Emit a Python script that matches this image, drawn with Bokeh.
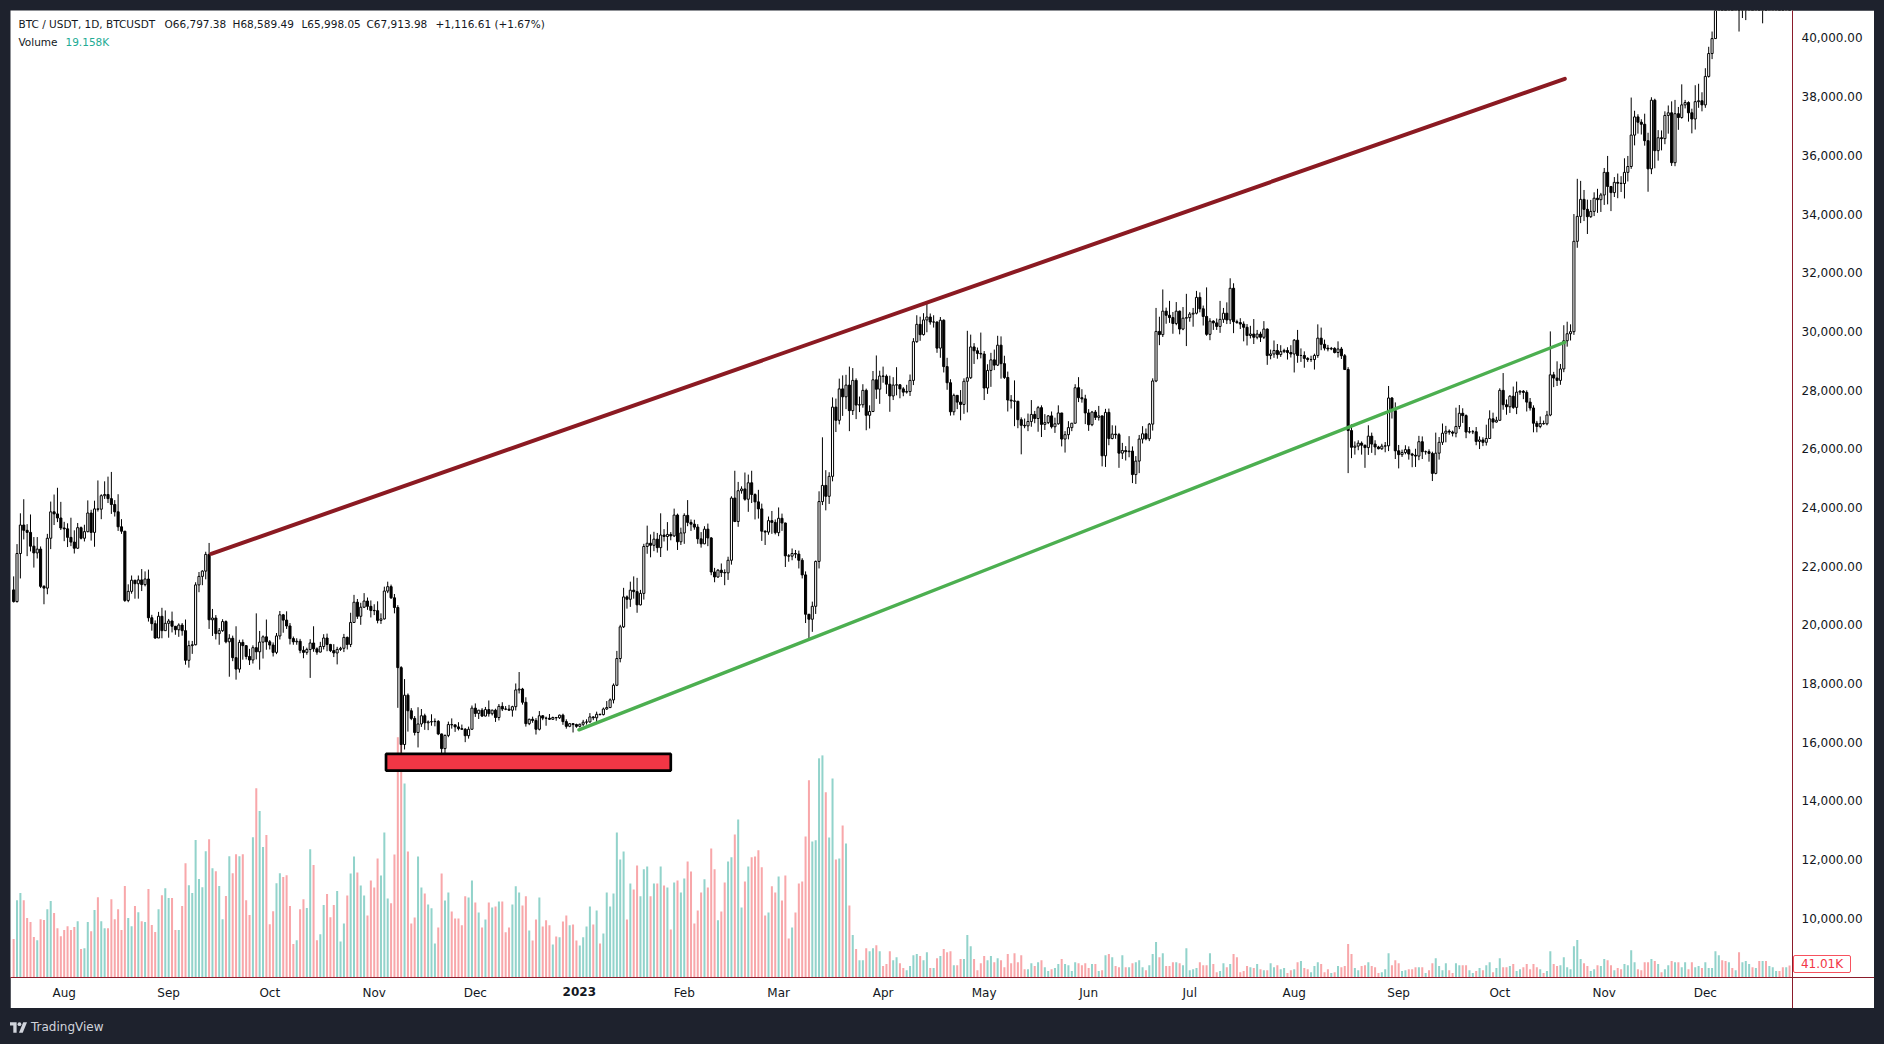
import numpy as np
import pandas as pd
from bokeh.plotting import figure
from bokeh.models import Range1d, FixedTicker, NumeralTickFormatter, ColumnDataSource, Label, Div
from bokeh.layouts import column
from bokeh.embed import file_html
from bokeh.resources import INLINE

# ---------------- data (BTC/USDT daily) ----------------
first_date = "2022-07-17"
first_open = 21190

close_jul22 = [20790,22430,23400,23220,23150,22680,22450,22580,21310,21250,22950,23850,23780,23640,23300]
high_jul22 = [21650,22750,23800,24280,23430,23760,22990,22990,22670,21350,23100,24200,24440,24670,24190]
low_jul22 = [20760,20760,21580,22910,22340,22500,21950,22260,21250,20700,21040,22580,23400,23500,23230]
vol_jul22 = [131,264,288,264,203,189,138,127,199,196,233,261,220,168,141]

close_aug22 = [23270,22980,22820,22610,23310,22950,23175,23810,23150,23950,23940,24400,24440,24300,24100,23850,23340,23190,20830,21140,21520,21400,21530,21370,21560,20240,20040,19550,20290,19800,20050]
high_aug22 = [23510,23460,23650,23220,23470,23350,23410,24240,23920,24230,24920,24450,24890,25050,25210,24250,24450,23600,23200,21380,21680,21520,21680,21900,21820,21880,20340,20150,20440,20580,20490]
low_aug22 = [22850,22650,22680,22430,22590,22910,22840,23150,22870,22660,23860,23600,24290,24150,23780,23690,23200,23100,20780,20770,21060,20890,20890,21150,21310,20110,19800,19520,19550,19540,19800]
vol_aug22 = [162,175,162,172,192,97,100,189,158,230,274,192,168,168,267,199,233,162,312,203,175,244,223,192,189,302,179,155,233,281,305]

close_sep22 = [20130,19950,19830,19990,19800,18790,19290,19320,21360,21650,21830,22400,20170,20230,19700,19800,20110,19420,19540,18880,18490,19400,19290,18920,18800,19220,19080,19410,19590,19420]
high_sep22 = [20200,20450,19960,20050,20060,20180,19460,19450,21450,21800,21860,22490,22790,20540,20330,19890,20190,20150,19680,19630,19950,19490,19500,19310,19180,19300,20390,19790,19640,20180]
low_sep22 = [19560,19740,19660,19590,19630,18640,18540,19010,19300,21110,21350,21550,19860,19620,19500,19320,19760,19370,18230,18760,18130,18370,18810,18820,18630,18680,18820,18470,18850,19150]
vol_sep22 = [271,271,162,162,244,390,315,288,469,336,308,431,472,373,363,312,199,278,414,356,421,414,421,264,213,479,646,568,445,486]

close_oct22 = [19310,19060,19620,20340,20160,19960,19530,19420,19440,19130,19060,19160,19380,19180,19070,19260,19550,19330,19120,19040,19160,19200,19570,19330,20080,20770,20290,20600,20810,20630,20490]
high_oct22 = [19480,19400,19720,20470,20370,20460,20060,19600,19540,19520,19270,19220,19510,19950,19230,19420,19680,19700,19350,19340,19250,19250,19690,19600,20410,21020,20880,20750,21080,20930,20830]
low_oct22 = [19160,18920,19000,19500,19730,19860,19330,19320,19320,19030,18860,18980,18190,19080,18980,19060,19160,19100,19070,18900,18650,19110,19070,19160,19240,20060,20200,20000,20570,20510,20250]
vol_oct22 = [182,226,322,356,343,349,244,114,127,233,267,237,438,384,127,148,247,285,206,247,295,123,184,280,355,413,358,314,280,212,331]

close_nov22 = [20480,20150,20200,21150,21300,20920,20590,18540,15920,17600,17070,16810,16330,16620,16900,16660,16690,16700,16710,16280,15780,16230,16600,16590,16520,16460,16440,16220,16440,17160]
high_nov22 = [20700,20800,20390,21300,21470,21370,21050,20670,18590,18150,17660,17160,16890,17190,17130,16970,16740,16950,16810,16750,16290,16260,16700,16810,16600,16680,16600,16480,16530,17250]
low_nov22 = [20330,20050,20030,20180,21080,20880,20390,17170,15590,15750,16360,16750,16230,15820,16520,16420,16410,16560,16540,16240,15480,15630,16170,16460,16350,16400,16420,16000,16120,16430]
vol_nov22 = [307,406,348,495,270,253,420,820,830,662,430,184,205,413,307,287,249,236,116,171,355,263,290,225,201,201,178,277,273,331]

close_dec22 = [16980,17090,16890,17110,16970,17090,16840,17220,17130,17125,17090,17210,17780,17810,17360,16630,16780,16740,16440,16900,16820,16815,16780,16840,16830,16920,16700,16540,16630,16600,16540]
high_dec22 = [17320,17100,17160,17200,17420,17110,17140,17300,17360,17230,17270,17240,18000,18390,17850,17530,16800,16870,16820,17060,16920,16870,16960,16870,16860,16940,16970,16780,16650,16650,16630]
low_dec22 = [16860,16790,16860,16880,16870,16910,16690,16740,17060,17090,17070,16870,17080,17660,17280,16530,16580,16660,16260,16400,16750,16560,16760,16760,16730,16790,16590,16460,16510,16330,16490]
vol_dec22 = [256,222,171,198,256,239,242,259,259,154,171,249,311,290,246,277,160,126,198,273,174,195,178,113,140,137,191,212,178,181,126]

close_jan23 = [16610,16680,16690,16860,16830,16950,16940,17130,17180,17440,17940,18850,19930,20950,20870,21180,21130,20680,21070,22670,22780,22710,22920,22630,23060,23010,23080,23030,23740,22830,23130]
high_jan23 = [16630,16760,16780,16990,16880,17040,16970,17180,17400,17490,18000,19110,20000,21260,21000,21470,21650,21600,21190,22760,23380,23080,23170,23130,23800,23260,23500,23160,23960,23790,23310]
low_jan23 = [16500,16550,16600,16660,16750,16670,16910,16910,17100,17160,17320,17910,18720,19890,20550,20610,20890,20410,20660,20860,22420,22300,22510,22460,22310,22840,22530,22880,22990,22550,22720]
vol_jan23 = [109,137,174,242,181,229,116,150,290,242,287,495,403,430,198,321,300,382,277,369,379,277,321,321,379,314,307,164,324,331,290]

close_feb23 = [23730,23490,23430,23330,22930,22760,23260,22960,21800,21630,21860,21780,21770,22200,24320,23520,24570,24630,24280,24840,24440,24190,23950,23190,23160,23550,23490,23140]
high_feb23 = [23800,24250,23590,23580,23430,23160,23360,23450,22990,21940,21900,22090,21890,22320,24380,25250,24870,24720,25190,25120,25250,24480,24600,24130,23220,23690,23880,23590]
low_feb23 = [22760,23360,23200,23240,22760,22630,22750,22680,21690,21450,21600,21630,21350,21530,22050,23500,23340,24470,24230,23850,24150,23590,23620,22860,22720,23070,23100,23080]
vol_feb23 = [338,396,362,184,229,290,335,307,440,369,195,225,324,396,410,488,539,239,328,379,410,413,434,376,212,222,311,290]

close_mar23 = [23630,23470,22350,22340,22430,22410,22200,21700,20360,20190,20630,22160,24200,24750,24380,25060,27420,26970,28040,27770,28170,27300,28330,27490,27500,27990,27140,27270,28350,28030,28480]
high_mar23 = [24000,23790,23480,22410,22600,22550,22530,22270,21820,20370,20790,22190,24550,26390,25270,25200,27750,27710,28390,28500,28520,28800,28750,28400,27780,28200,28050,27480,28650,29180,28660]
low_mar23 = [23020,23200,21970,22150,22200,22270,21920,21580,20060,19550,19760,20370,21920,24080,23900,24120,24890,26570,26830,27120,27350,26600,27150,27010,27250,27400,26630,26690,27250,27700,27530]
vol_mar23 = [345,263,348,133,171,222,321,328,481,673,464,468,748,758,632,478,679,403,406,519,457,246,145,97,59,59,100,90,100,110,90]

close_apr23 = [28470,28200,27800,28170,28180,28040,27930,27950,28330,29650,30240,29890,30390,30490,30320,30320,29430,30380,28800,28250,27260,27820,27590,27510,28300,28420,29470,29340,29250,29230]
high_apr23 = [28800,28530,28490,28440,28780,28200,28100,28180,28530,29770,30550,30500,30620,31000,30610,30550,30340,30490,30410,29100,28370,27880,27820,28000,28400,30020,29890,29600,29450,29960]
low_apr23 = [28250,27870,27260,27660,27820,27720,27790,27880,27800,28170,29610,29680,29860,29970,30230,30130,29270,29100,28600,28010,27130,27140,27350,26970,27190,27240,28380,28890,29050,29080]
vol_apr23 = [39,46,90,59,69,49,32,25,39,76,80,73,59,86,32,32,66,73,97,86,90,42,42,63,63,145,107,63,25,49]

close_may23 = [28070,28670,29030,28850,29530,28900,28430,27660,27630,27620,26990,26800,26780,26930,27170,27030,27400,26830,26890,27120,26750,26850,27220,26330,26480,26720,26870,28080,27740,27700,27220]
high_may23 = [29330,28880,29270,29380,29850,29830,29170,28630,27830,28330,27630,27070,27030,27200,27660,27290,27460,27480,27180,27150,27270,27060,27480,27220,26600,26940,26880,28200,28440,28030,27840]
low_may23 = [27660,27870,28110,28680,28820,28390,28380,27270,27370,26770,26700,25810,26700,26600,26750,26870,26580,26400,26640,26840,26690,26540,26820,26080,25870,26320,26600,26860,27590,27570,26840]
vol_may23 = [73,59,73,52,66,59,35,80,49,83,52,76,28,28,49,39,52,59,35,22,28,32,46,63,46,42,22,52,49,42,49]

close_jun23 = [26820,27250,27070,27120,25760,27240,26350,26500,26480,25850,25940,25900,25920,25120,25580,26330,26510,26340,26840,28310,30000,29890,30690,30550,30470,30270,30690,30080,30450,30470]
high_jun23 = [27350,27290,27320,27460,27130,27360,27370,26800,26790,26540,26200,26090,26430,26080,25750,26470,26770,26690,26880,28400,30800,30500,31430,30810,31040,30660,31000,30710,30830,31280]
low_jun23 = [26610,26770,26980,26960,25400,25380,26120,26320,26340,25350,25650,25600,25710,24830,24800,25170,26180,26290,26260,26620,28270,29530,29810,30260,30290,29920,30210,29900,30040,29500]
vol_jun23 = [32,46,46,22,25,76,80,69,39,35,76,35,35,49,52,59,35,25,42,80,121,69,83,39,39,52,52,49,42,100]

close_jul23 = [30590,30620,31160,30770,30510,29900,30350,30290,30170,30410,30620,30390,31470,30330,30300,30250,30140,29860,29910,29800,29910,29800,30080,29180,29230,29350,29210,29310,29350,29280,29230]
high_jul23 = [30660,30800,31380,31330,30880,31500,30450,30380,30440,31040,30800,30990,31810,31640,30400,30450,30340,30250,30190,30420,30050,29990,30350,30100,29380,29690,29570,29530,29410,29460,29530]
low_jul23 = [30330,30160,30580,30650,30200,29850,29700,30050,30050,29950,30290,30250,30250,29940,30260,30080,29660,29520,29760,29570,29730,29640,29740,28860,29050,29100,29070,29130,29260,29040,29110]
vol_jul23 = [25,28,32,52,42,42,83,46,18,22,49,35,46,80,69,18,22,39,35,32,46,28,25,25,49,35,42,28,32,15,25]

close_aug23 = [29700,29180,29180,29080,29040,29040,29180,29770,29560,29430,29400,29420,29280,29400,29170,28700,26620,26050,26090,26190,26120,26040,26430,26160,26060,26000,26090,26100,27730,27300,25930]
high_aug23 = [29740,30050,29420,29320,29120,29170,29240,30240,30130,29720,29540,29470,29460,29660,29470,29230,28780,26830,26250,26290,26250,26140,26800,26550,26290,26100,26170,26230,28140,27760,27580]
low_aug23 = [28600,28930,28960,28760,28960,28960,28700,29100,29360,29350,29320,29360,29250,29110,29060,28690,25170,25680,25800,25950,25800,25350,25790,25860,25780,25980,25960,25880,25920,27030,25650]
vol_aug23 = [28,52,56,32,28,18,39,52,46,18,28,15,18,39,35,39,114,80,32,25,39,42,52,39,35,15,18,28,83,42,59]

close_sep23 = [25800,25870,25970,25820,25780,25750,26240,25900,25900,25840,25160,25850,26220,26530,26600,26570,26530,26760,27210,27130,26570,26580,26580,26250,26300,26220,26350,27020,26910,26970]
high_sep23 = [26130,25970,26120,26080,25860,26000,26440,26420,25940,25980,25900,26550,26400,26860,26780,26660,26620,27400,27490,27380,27170,26740,26640,26740,26420,26390,26820,27310,27230,27090]
low_sep23 = [25330,25720,25810,25630,25370,25380,25610,25650,25800,25560,24900,25130,25630,26130,26220,26480,26420,26390,26670,26880,26360,26520,26500,26120,25990,26090,26110,26340,26690,26890]
vol_sep23 = [49,22,25,28,28,35,35,35,15,25,49,66,39,25,49,25,15,49,42,42,42,25,15,22,32,25,42,52,18,32]

close_oct23 = [27990,27500,27430,27790,27410,27930,27960,27920,27590,27390,26870,26760,26860,26850,27150,28520,28410,28330,28720,29680,29920,29990,33070,33920,34500,34160,33910,34090,34540,34490,34650]
high_oct23 = [28060,28580,27680,27830,28120,28290,28000,28000,27990,27730,27480,26950,27100,26960,27290,30000,28620,28980,28890,30210,30330,30240,34000,35200,35130,34820,34490,34480,34740,34860,34720]
low_oct23 = [26950,27330,27160,27220,27360,27180,27840,27690,27270,27300,26560,26560,26700,26820,26800,27110,28100,28140,28180,28610,29480,29690,29880,32850,33690,33760,33320,33870,33930,34040,34070]
vol_oct23 = [66,35,35,39,46,22,28,35,46,28,46,35,28,15,22,90,46,39,42,69,35,28,107,128,63,49,39,22,28,42,39]

close_nov23 = [35420,34940,34730,35080,35050,35040,35420,35620,36690,37310,37130,37060,36500,35540,37880,36160,36600,36570,37360,37450,35750,37420,37290,37720,37800,37450,37240,37830,37860,37720]
high_nov23 = [35570,35980,34950,35260,35380,35290,35900,35980,37970,37520,37400,37230,37420,36770,37980,37930,36860,36850,37500,37700,37840,37890,37650,38420,37890,37840,37590,38390,38440,38150]
low_nov23 = [34310,34330,34100,34580,34540,34750,34530,35110,35540,36340,36740,36710,36330,34760,35360,35560,35820,36170,36380,36740,35640,35630,36870,37250,37600,37150,36750,36880,37620,37500]
vol_nov23 = [63,59,42,25,32,28,46,42,93,52,28,25,52,52,63,56,46,18,28,42,56,52,52,35,52,28,52,35,39,32]

close_dec23 = [38690,39470,39980,41990,44080,43770,43290,44170,43720,43790,41240,41450,42890,43020,41940,42260,41370,42660,42270,43650,43860,43990,43720,43020,43580,42520]
high_dec23 = [38970,39700,40220,42430,44490,44300,44050,44700,44360,44050,43810,42100,43000,43420,43090,42700,42430,42750,43490,44280,44240,44400,44020,43950,43810,43600]
low_dec23 = [37620,38650,39280,39980,41420,43340,42820,43080,43580,43560,40220,40680,40610,41430,41660,41680,41260,40500,41810,42200,43300,43410,43560,42750,42720,41630]
vol_dec23 = [52,32,32,90,76,59,56,52,32,25,86,52,56,46,35,32,56,56,56,39,35,22,22,35,35,41]

months = ["jul22","aug22","sep22","oct22","nov22","dec22","jan23","feb23","mar23","apr23","may23","jun23",
          "jul23","aug23","sep23","oct23","nov23","dec23"]

# axis ticks and labels
price_ticks = [10000,12000,14000,16000,18000,20000,22000,24000,26000,28000,30000,32000,34000,36000,38000,40000]
month_ticks = ["2022-08-01","2022-09-01","2022-10-01","2022-11-01","2022-12-01","2023-01-01","2023-02-01",
               "2023-03-01","2023-04-01","2023-05-01","2023-06-01","2023-07-01","2023-08-01","2023-09-01",
               "2023-10-01","2023-11-01","2023-12-01"]
month_labels = ["Aug","Sep","Oct","Nov","Dec","2023","Feb","Mar","Apr","May","Jun","Jul","Aug","Sep","Oct","Nov","Dec"]

# drawings
red_line_dates = ["2022-09-13 15:00","2023-10-20 07:00"]
red_line_values = [22420,38610]
green_line_dates = ["2022-12-31 18:00","2023-10-20 07:00"]
green_line_values = [16420,29630]
box_dates = ["2022-11-04 12:00","2023-01-28 00:00"]
box_values = [15030,15600]

header_line1 = ["BTC / USDT, 1D, BTCUSDT","O66,797.38","H68,589.49","L65,998.05","C67,913.98","+1,116.61 (+1.67%)"]
header_volume = ["Volume","19.158K"]
last_volume_label = "41.01K"

# ---------------- build ----------------
g = globals()
close = sum((g["close_" + m] for m in months), [])
high = sum((g["high_" + m] for m in months), [])
low = sum((g["low_" + m] for m in months), [])
volume = sum((g["vol_" + m] for m in months), [])
for m in months:
    n = len(g["close_" + m])
    assert len(g["high_" + m]) == n and len(g["low_" + m]) == n and len(g["vol_" + m]) == n, m

dates = pd.date_range(first_date, periods=len(close), freq="D")
o = np.array([first_open] + close[:-1], dtype=float)
c = np.array(close, dtype=float)
h = np.maximum(np.array(high, dtype=float), np.maximum(o, c))
l = np.minimum(np.array(low, dtype=float), np.minimum(o, c))
up = c >= o

TEAL_V = "#92d3cb"
PINK_V = "#f8a7aa"
DAY = 86400000.0
AX = "#8b1c2b"

src = ColumnDataSource(dict(
    x=dates, h=h, l=l,
    top=np.maximum(o, c), bot=np.minimum(o, c),
    fill=np.where(up, "#ffffff", "#000000"),
    vol=np.array(volume, dtype=float),
    vcol=np.where(up, TEAL_V, PINK_V),
))

view_start = pd.Timestamp("2022-07-16 01:35")
view_end = pd.Timestamp("2023-12-26 20:45")

p = figure(width=1864, height=998, x_axis_type="datetime", y_axis_location="right",
           x_range=Range1d(view_start, view_end), y_range=Range1d(7979, 40937),
           output_backend="svg", toolbar_location=None,
           min_border_left=0, min_border_top=0, min_border_right=82, min_border_bottom=31,
           background_fill_color="#ffffff", border_fill_color="#ffffff", outline_line_color=None)
p.extra_y_ranges = {"vol": Range1d(0, 3300)}
p.xgrid.visible = False
p.ygrid.visible = False

p.vbar(x="x", width=0.6 * DAY, top="vol", bottom=0, fill_color="vcol", line_color=None,
       source=src, y_range_name="vol")
p.segment(x0="x", y0="l", x1="x", y1="h", line_color="#000000", line_width=1, source=src)
p.vbar(x="x", width=0.62 * DAY, top="top", bottom="bot", fill_color="fill",
       line_color="#000000", line_width=1, source=src)

bd = pd.to_datetime(box_dates)
p.quad(left=[bd[0]], right=[bd[1]], bottom=[box_values[0]], top=[box_values[1]],
       fill_color="#f23645", line_color="#000000", line_width=2.7)
p.line(x=pd.to_datetime(red_line_dates), y=red_line_values, line_color="#8b1a22",
       line_width=4.0, line_cap="round")
p.line(x=pd.to_datetime(green_line_dates), y=green_line_values, line_color="#4caf50",
       line_width=3.4, line_cap="round")

yax = p.yaxis[0]
yax.ticker = FixedTicker(ticks=price_ticks)
yax.formatter = NumeralTickFormatter(format="0,0.00")
yax.axis_line_color = AX
yax.major_tick_line_color = None
yax.minor_tick_line_color = None
yax.major_label_standoff = 3
yax.major_label_text_font = "DejaVu Sans"
yax.major_label_text_font_size = "12px"
yax.major_label_text_color = "#131722"

tick_ms = [float(pd.Timestamp(t).value // 10**6) for t in month_ticks]
xax = p.xaxis[0]
xax.ticker = FixedTicker(ticks=tick_ms)
xax.major_label_overrides = {t: lab for t, lab in zip(tick_ms, month_labels)}
xax.axis_line_color = AX
xax.major_tick_line_color = None
xax.minor_tick_line_color = None
xax.major_label_standoff = 2
xax.major_label_text_font = "DejaVu Sans"
xax.major_label_text_font_size = "12px"
xax.major_label_text_color = "#131722"

FRAME_H = 998 - 31
hx = [8, 154, 222, 291, 356, 425]
for x0, txt in zip(hx, header_line1):
    p.add_layout(Label(x=x0, y=FRAME_H - 13.5, x_units="screen", y_units="screen", text=txt,
                       text_font="DejaVu Sans", text_font_size="10.5px", text_color="#131722",
                       text_baseline="middle", text_align="left"))
p.add_layout(Label(x=8, y=FRAME_H - 31.5, x_units="screen", y_units="screen", text=header_volume[0],
                   text_font="DejaVu Sans", text_font_size="10.5px", text_color="#131722",
                   text_baseline="middle", text_align="left"))
p.add_layout(Label(x=55, y=FRAME_H - 31.5, x_units="screen", y_units="screen", text=header_volume[1],
                   text_font="DejaVu Sans", text_font_size="10.5px", text_color="#22ab94",
                   text_baseline="middle", text_align="left"))

logo = Div(text=('<div style="display:flex;align-items:center;gap:4px;color:#d1d4dc;'
                 'font-family:DejaVu Sans;font-size:12px;">'
                 '<svg width="17" height="11" viewBox="0 0 36 22">'
                 '<path d="M0 0h14v22H7V7H0z" fill="#d1d4dc"/><circle cx="20" cy="4" r="4" fill="#d1d4dc"/>'
                 '<path d="M28 0h8l-9 22h-8z" fill="#d1d4dc"/></svg><span>TradingView</span></div>'),
           width=200, height=18, margin=(11, 0, 0, 0))

# page position of the bold "2023" year label (centred on its tick)
span_days = (view_end - view_start) / pd.Timedelta(days=1)
px_day = 1782.0 / span_days
year_x = 10 + (pd.Timestamp(month_ticks[month_labels.index("2023")]) - view_start) / pd.Timedelta(days=1) * px_day

overlay = (
    f'<div style="position:absolute;left:{year_x - 20:.1f}px;top:983px;width:40px;height:19px;'
    'background:#ffffff;font:bold 12px \'DejaVu Sans\';color:#131722;text-align:center;'
    'line-height:19px;z-index:10;">2023</div>'
    '<div style="position:absolute;left:1793px;top:955px;width:58px;height:18px;box-sizing:border-box;'
    'border:1px solid #f7525f;border-radius:2px;background:#ffffff;font:12px \'DejaVu Sans\';'
    f'color:#f23645;text-align:center;line-height:16px;z-index:10;">{last_volume_label}</div>'
    f'<div style="position:absolute;left:1792px;top:976.5px;width:82px;height:1px;background:{AX};z-index:10;"></div>'
    f'<div style="position:absolute;left:1791.5px;top:977px;width:1px;height:31px;background:{AX};z-index:10;"></div>'
)

layout = column(p, logo, spacing=0)
html = file_html(layout, INLINE, title="BTC / USDT")
css = ("<style>html,body{margin:0;padding:0;background:#1e222d;}"
       "body{padding:10px 0 0 10px;box-sizing:border-box;}</style>")
html = html.replace("</head>", css + "</head>", 1)
html = html.replace("</body>", overlay + "</body>", 1)
open("out.html", "w").write(html)
